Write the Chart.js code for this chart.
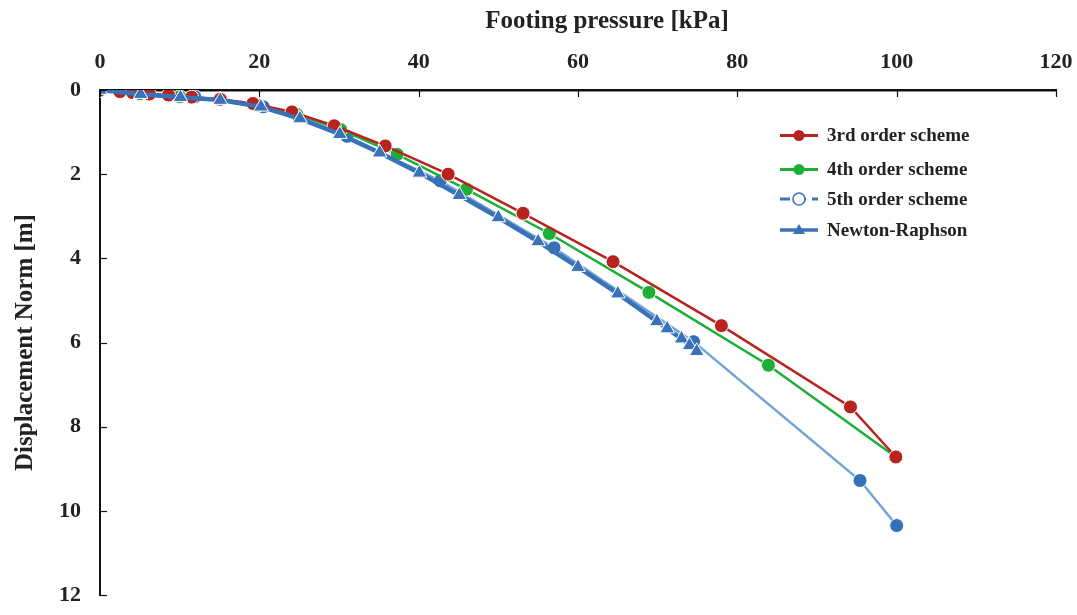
<!DOCTYPE html>
<html lang="en">
<head>
  <meta charset="UTF-8">
  <title>Footing pressure vs displacement</title>
  <script src="https://cdn.jsdelivr.net/npm/chart.js@4"></script>
  <style>
    html, body { margin: 0; padding: 0; background: #fff; }
    #wrap { width: 1077px; height: 615px; }
  </style>
</head>
<body>
<div id="wrap"><canvas id="chart" width="1077" height="615"></canvas></div>
<script>
  // data (x = footing pressure kPa, y = displacement norm m)
  const p3 = [0, 2.5, 4.1, 6.2, 8.6, 11.5, 15.1, 19.2, 24.1, 29.4, 35.8, 43.7, 53.1, 64.4, 78.0, 94.2, 99.9];
  const d3 = [0, 0.04, 0.065, 0.095, 0.12, 0.17, 0.22, 0.32, 0.52, 0.85, 1.33, 2.0, 2.93, 4.08, 5.60, 7.53, 8.72];

  const p4 = [0, 5, 10, 15, 19.8, 24.7, 30.2, 37.3, 46.0, 56.4, 68.9, 83.9, 99.9];
  const d4 = [0, 0.09, 0.16, 0.23, 0.36, 0.58, 0.94, 1.53, 2.36, 3.41, 4.81, 6.54, 8.72];

  const p5 = [0, 11.9, 20.5, 31.0, 42.7, 57.0, 74.5, 95.4, 100];
  const d5 = [0, 0.16, 0.40, 1.10, 2.16, 3.75, 5.98, 9.28, 10.35];

  const pNR = [0, 5.1, 10.1, 15.1, 20.2, 25.1, 30.1, 35.1, 40.1, 45.1, 50.0, 55.0, 60.0, 65.0, 69.9, 71.2, 73.0, 74.0, 74.9];
  const dNR = [0, 0.10, 0.175, 0.24, 0.40, 0.68, 1.05, 1.49, 1.97, 2.50, 3.03, 3.60, 4.21, 4.84, 5.50, 5.67, 5.91, 6.07, 6.21];

  const xTicks = [0, 20, 40, 60, 80, 100, 120];
  const yTicks = [0, 2, 4, 6, 8, 10, 12];

  const xTitle = 'Footing pressure [kPa]';

  const toPts = (xs, ys) => xs.map((x, i) => ({ x: x, y: ys[i] }));

  const FONT = "'Liberation Serif', 'DejaVu Serif', serif";

  // tick marks pointing into the plot, like the original figure
  const innerTicks = {
    id: 'innerTicks',
    afterDatasetsDraw(chart) {
      const c = chart.ctx, a = chart.chartArea;
      const xs = chart.scales.x, ys = chart.scales.y;
      c.save();
      c.strokeStyle = '#111';
      c.lineWidth = 1.2;
      xTicks.forEach(v => {
        const px = Math.round(xs.getPixelForValue(v)) + 0.5;
        c.beginPath(); c.moveTo(px, a.top); c.lineTo(px, a.top + 7); c.stroke();
      });
      yTicks.forEach(v => {
        const py = Math.round(ys.getPixelForValue(v)) + 0.5;
        c.beginPath(); c.moveTo(a.left, py); c.lineTo(a.left + 7, py); c.stroke();
      });
      c.restore();
    }
  };

  // x axis title sits a bit right of centre in the original
  const topTitle = {
    id: 'topTitle',
    afterDraw(chart) {
      const c = chart.ctx;
      c.save();
      c.font = "bold 25px " + FONT;
      c.fillStyle = '#222';
      c.textAlign = 'center';
      c.textBaseline = 'middle';
      c.fillText(xTitle, 607, 22);
      c.restore();
    }
  };

  // legend drawn inside the plot at the upper right
  const boxLegend = {
    id: 'boxLegend',
    afterDraw(chart) {
      const c = chart.ctx;
      const rows = [135.5, 169.5, 199, 230];
      c.save();
      c.font = "bold 19px " + FONT;
      c.textBaseline = 'middle';
      chart.data.datasets.forEach((ds, i) => {
        const y = rows[i];
        c.strokeStyle = ds.legendColor;
        c.lineWidth = i === 3 ? 3.5 : 3;
        c.setLineDash(i === 2 ? [10, 6] : []);
        c.beginPath(); c.moveTo(780, y); c.lineTo(818, y); c.stroke();
        c.setLineDash([]);
        if (i === 3) {
          c.fillStyle = ds.legendColor;
          c.beginPath(); c.moveTo(799, y - 6); c.lineTo(805, y + 4); c.lineTo(793, y + 4); c.closePath(); c.fill();
        } else if (i === 2) {
          c.fillStyle = '#fff';
          c.lineWidth = 1.6;
          c.beginPath(); c.arc(799, y, 6, 0, Math.PI * 2); c.fill(); c.stroke();
        } else {
          c.fillStyle = ds.legendColor;
          c.beginPath(); c.arc(799, y, 5.5, 0, Math.PI * 2); c.fill();
        }
        c.fillStyle = '#222';
        c.fillText(ds.label, 827, y + 1);
      });
      c.restore();
    }
  };

  const ctx = document.getElementById('chart').getContext('2d');
  new Chart(ctx, {
    type: 'scatter',
    data: {
      datasets: [
        {
          label: '3rd order scheme',
          data: toPts(p3, d3),
          showLine: true,
          borderColor: '#b8231f',
          backgroundColor: '#b8231f',
          legendColor: '#b8231f',
          borderWidth: 2.5,
          pointRadius: 7,
          pointBorderColor: '#fff',
          pointBorderWidth: 1,
          order: 2
        },
        {
          label: '4th order scheme',
          data: toPts(p4, d4),
          showLine: true,
          borderColor: '#1caf38',
          backgroundColor: '#1caf38',
          legendColor: '#1caf38',
          borderWidth: 2.5,
          pointRadius: 7,
          pointBorderColor: '#fff',
          pointBorderWidth: 1,
          order: 3
        },
        {
          label: '5th order scheme',
          data: toPts(p5, d5),
          showLine: true,
          borderColor: '#70a4d8',
          backgroundColor: '#3571b8',
          legendColor: '#3a74bb',
          borderWidth: 2.5,
          pointRadius: 7,
          pointBorderColor: '#fff',
          pointBorderWidth: 1,
          order: 4
        },
        {
          label: 'Newton-Raphson',
          data: toPts(pNR, dNR),
          showLine: true,
          borderColor: '#3a72b8',
          backgroundColor: '#3a72b8',
          legendColor: '#3a72b8',
          borderWidth: 4.5,
          pointStyle: 'triangle',
          pointRadius: 8.5,
          pointBorderColor: '#fff',
          pointBorderWidth: 1,
          order: 1
        }
      ]
    },
    options: {
      responsive: false,
      animation: false,
      layout: { padding: { left: 0, top: 0, right: 21, bottom: 20 } },
      plugins: {
        legend: { display: false },
        tooltip: { enabled: false }
      },
      scales: {
        x: {
          type: 'linear',
          position: 'top',
          min: 0,
          max: 120,
          afterBuildTicks: s => { s.ticks = xTicks.map(v => ({ value: v })); },
          afterFit: s => { s.height = 90; s.paddingLeft = 0; s.paddingRight = 0; },
          grid: { display: true, drawOnChartArea: false, drawTicks: false },
          border: { display: true, color: '#111', width: 2.5 },
          ticks: {
            padding: 14,
            color: '#222',
            font: { family: FONT, size: 22, weight: 'bold' }
          },
          title: { display: false }
        },
        y: {
          type: 'linear',
          reverse: true,
          min: 0,
          max: 12,
          afterBuildTicks: s => { s.ticks = yTicks.map(v => ({ value: v })); },
          afterFit: s => { s.width = 100; s.paddingTop = 0; s.paddingBottom = 0; },
          grid: { display: true, drawOnChartArea: false, drawTicks: false },
          border: { display: true, color: '#111', width: 2 },
          ticks: {
            padding: 19,
            color: '#222',
            font: { family: FONT, size: 22, weight: 'bold' }
          },
          title: {
            display: true,
            text: 'Displacement Norm [m]',
            color: '#222',
            padding: { top: 11, bottom: 0 },
            font: { family: FONT, size: 25, weight: 'bold' }
          }
        }
      }
    },
    plugins: [innerTicks, topTitle, boxLegend]
  });
</script>
</body>
</html>
